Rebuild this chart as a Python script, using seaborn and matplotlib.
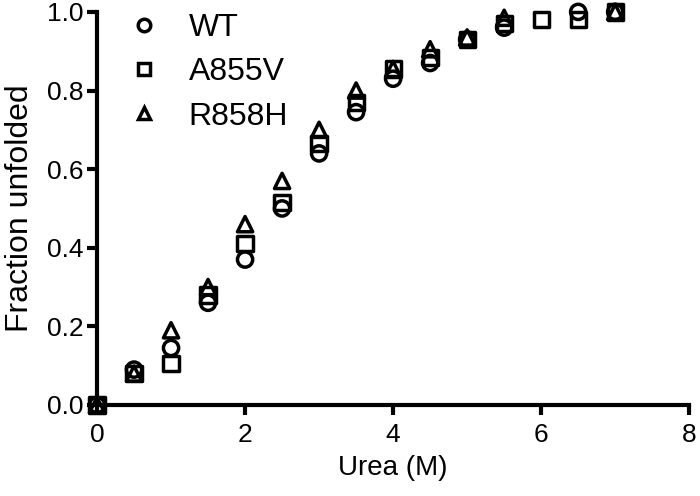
import numpy as np
import pandas as pd
import matplotlib
matplotlib.use("Agg")
import matplotlib.pyplot as plt
import seaborn as sns
from matplotlib.lines import Line2D

urea = [0, 0.5, 1, 1.5, 2, 2.5, 3, 3.5, 4, 4.5, 5, 5.5, 6, 6.5, 7]
wt = [0, 0.09, 0.145, 0.26, 0.37, 0.50, 0.64, 0.745, 0.83, 0.87, 0.93, 0.96, np.nan, 1.0, 1.0]
a855v = [0, 0.08, 0.105, 0.28, 0.41, 0.515, 0.665, 0.77, 0.855, 0.885, 0.93, 0.97, 0.98, 0.98, 1.0]
r858h = [0, 0.08, 0.19, 0.30, 0.46, 0.57, 0.70, 0.80, 0.855, 0.905, 0.935, 0.985, np.nan, np.nan, 1.0]
variants = ["WT", "A855V", "R858H"]
xticks = [0, 2, 4, 6, 8]
yticks = [0.0, 0.2, 0.4, 0.6, 0.8, 1.0]

frames = []
for name, vals in zip(variants, [wt, a855v, r858h]):
    frames.append(pd.DataFrame({"Urea": urea, "Fraction": vals, "Variant": name}))
df = pd.concat(frames).dropna()

sns.set_style("ticks")
plt.rcParams['font.family'] = ['Liberation Sans', 'DejaVu Sans']
plt.rcParams.update({"text.color": "black", "axes.labelcolor": "black",
                     "xtick.color": "black", "ytick.color": "black",
                     "axes.edgecolor": "black"})

fig = plt.figure(figsize=(7.0, 4.96), dpi=100)
ax = fig.add_axes([0.1386, 0.1835, 0.846, 0.7925])

markers = {"WT": "o", "A855V": "s", "R858H": "^"}
sns.scatterplot(data=df, x="Urea", y="Fraction", style="Variant", markers=markers,
                style_order=variants, color="black", s=120, linewidth=2.5,
                legend=False, ax=ax, clip_on=False, zorder=5)
for coll in ax.collections:
    coll.set_facecolor("none")
    coll.set_edgecolor("black")
    coll.set_linewidth(2.5)

ax.set_xlim(0, 8)
ax.set_ylim(0, 1.0)
ax.set_xticks(xticks)
ax.set_xticklabels([str(t) for t in xticks])
ax.set_yticks(yticks)
ax.set_yticklabels([f"{t:.1f}" for t in yticks])
sns.despine(ax=ax)
for sp in ["left", "bottom"]:
    ax.spines[sp].set_linewidth(3.0)
    ax.spines[sp].set_color("black")
ax.tick_params(axis="both", width=3.0, length=7, color="black", labelcolor="black",
               labelsize=19, pad=3)
ax.tick_params(axis="x", pad=6)
ax.set_xlabel("Urea (M)", fontsize=20, labelpad=6, color="black")
ax.set_ylabel("Fraction unfolded", fontsize=23, labelpad=8, color="black")

handles = [Line2D([], [], linestyle="", marker=markers[v], markersize=9,
                  markerfacecolor="none", markeredgecolor="black", markeredgewidth=2.5)
           for v in variants]
leg = ax.legend(handles, variants, loc="upper left", bbox_to_anchor=(0.025, 1.03), frameon=False,
                fontsize=23, handletextpad=0.8, labelspacing=0.45, borderaxespad=0.0,
                handlelength=1.2)
for t in leg.get_texts():
    t.set_color("black")

fig.savefig("out.png", dpi=100)
